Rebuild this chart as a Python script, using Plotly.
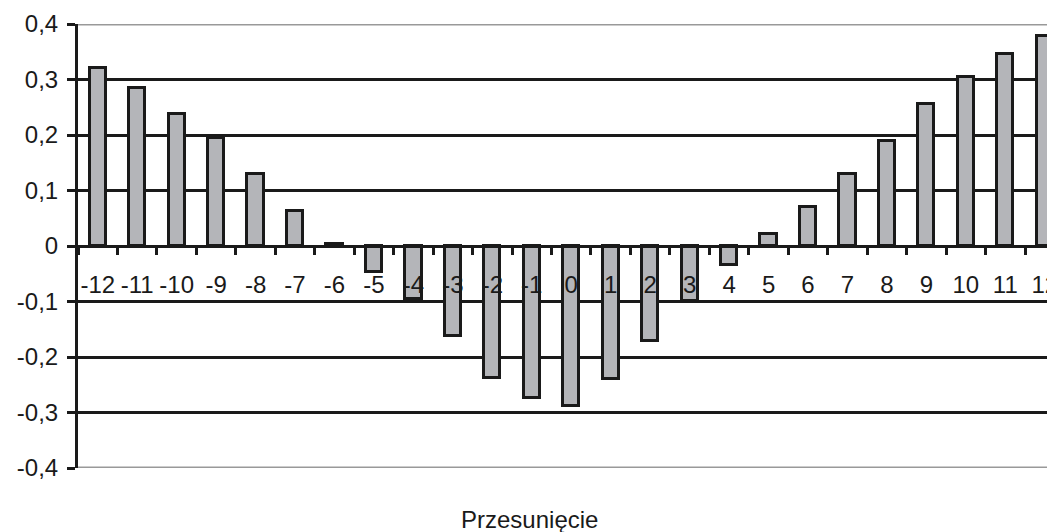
import plotly.graph_objects as go

categories = [str(i) for i in range(-12, 13)]
values = [0.320, 0.284, 0.238, 0.194, 0.130, 0.063, 0.004, -0.047, -0.096, -0.162,
          -0.237, -0.273, -0.288, -0.240, -0.172, -0.099, -0.035, 0.022, 0.070, 0.129,
          0.190, 0.255, 0.304, 0.346, 0.379]
y_ticks = [-0.4, -0.3, -0.2, -0.1, 0, 0.1, 0.2, 0.3, 0.4]
y_labels = ["-0,4", "-0,3", "-0,2", "-0,1", "0", "0,1", "0,2", "0,3", "0,4"]
x_title = "Przesunięcie"

# page has an 8px body margin: figure is placed at (8, 8)
OFF = 8
W, H = 1047, 524
ml, mt = 78 - OFF, 24 - OFF
mb = H - (468 - OFF)
band = 39.46
n_vis = (W - ml) / band  # visible bands (plot is clipped at the right)

fig = go.Figure()
fig.add_bar(x=categories, y=values, width=0.41,
            marker=dict(color="#b4b5b9", line=dict(color="#1a1a1a", width=3)))

fig.update_layout(
    width=W, height=H,
    margin=dict(l=ml, r=0, t=mt, b=mb, autoexpand=False),
    plot_bgcolor="white", paper_bgcolor="white",
    showlegend=False, bargap=0,
    font=dict(family="Liberation Sans, Arial, sans-serif", size=24, color="#1a1a1a"),
    xaxis=dict(
        type="category", range=[-0.5, -0.5 + n_vis],
        anchor="free", position=0.5, automargin=False,
        showline=True, linecolor="#1a1a1a", linewidth=3,
        ticks="outside", tickson="boundaries", ticklen=7, tickwidth=3, tickcolor="#1a1a1a",
        showgrid=False, zeroline=False, tickangle=0,
        tickfont=dict(size=24, color="#1a1a1a"),
        ticklabelstandoff=16,
    ),
    yaxis=dict(
        range=[-0.4, 0.4], tickvals=y_ticks, ticktext=y_labels, automargin=False,
        showline=True, linecolor="#1a1a1a", linewidth=3,
        ticks="outside", ticklen=8, tickwidth=3, tickcolor="#1a1a1a",
        showgrid=True, gridcolor="#1a1a1a", gridwidth=3,
        zeroline=False, tickfont=dict(size=24, color="#1a1a1a"),
        ticklabelstandoff=4,
    ),
)
# top and bottom gray border lines
for yv in (0.4, -0.4):
    fig.add_shape(type="line", xref="paper", yref="y", x0=0, x1=1, y0=yv, y1=yv,
                  line=dict(color="#999999", width=3), layer="above")

fig.add_annotation(text=x_title, xref="paper", yref="paper",
                   x=(529 - OFF - ml) / (W - ml),
                   y=-(519 - OFF - (H - mb)) / (H - mt - mb),
                   showarrow=False, xanchor="center", yanchor="middle",
                   font=dict(size=24, color="#1a1a1a"))

fig.write_html("out.html")
